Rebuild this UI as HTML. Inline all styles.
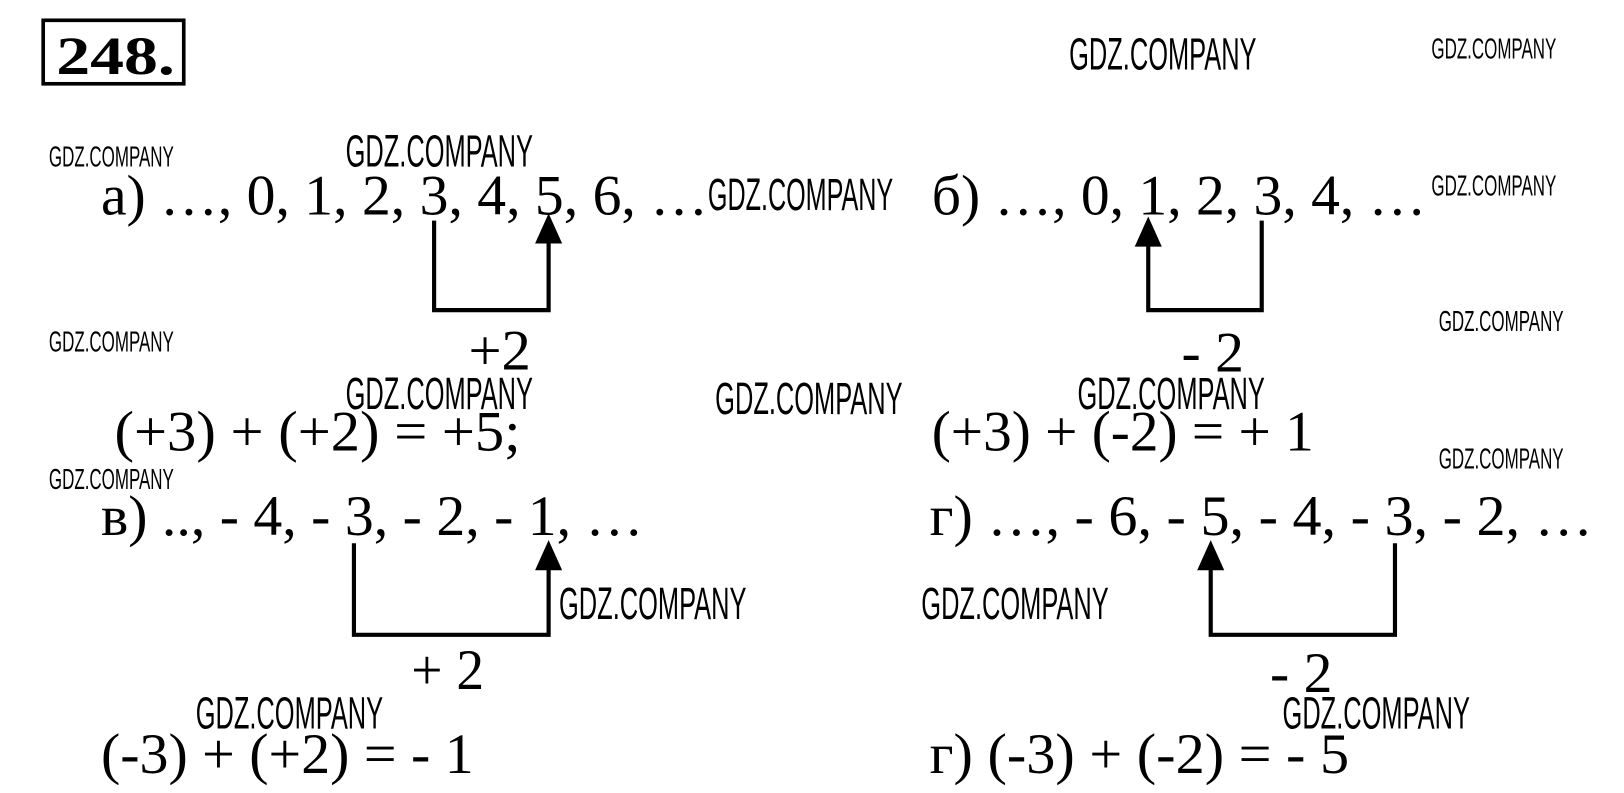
<!DOCTYPE html>
<html><head><meta charset="utf-8"><style>
html,body{margin:0;padding:0;background:#fff;}
svg{display:block;}
.m{font-family:"Liberation Serif","Times New Roman",serif;font-size:55px;fill:#000;}
.wl{font-family:"Liberation Sans Narrow","Liberation Sans",sans-serif;font-size:44px;fill:#000;}
.ws{font-family:"Liberation Sans Narrow","Liberation Sans",sans-serif;font-size:28px;fill:#000;}
</style></head><body>
<svg width="1624" height="793" viewBox="0 0 1560 762" preserveAspectRatio="none" xmlns="http://www.w3.org/2000/svg">
<rect x="0" y="0" width="1560" height="762" fill="#fff"/>
<rect x="41.5" y="19.5" width="135" height="61" fill="none" stroke="#000" stroke-width="3.5"/>
<text x="54" y="71" font-family="Liberation Serif,Times New Roman,serif" font-weight="bold" font-size="52" textLength="114" lengthAdjust="spacingAndGlyphs">248.</text>

<g>
<text class="wl" x="1027" y="67" textLength="180" lengthAdjust="spacingAndGlyphs">GDZ.COMPANY</text>
<text class="ws" x="1375" y="56" textLength="120" lengthAdjust="spacingAndGlyphs">GDZ.COMPANY</text>
<text class="ws" x="47" y="160" textLength="120" lengthAdjust="spacingAndGlyphs">GDZ.COMPANY</text>
<text class="wl" x="332" y="160" textLength="180" lengthAdjust="spacingAndGlyphs">GDZ.COMPANY</text>
<text class="wl" x="680" y="202" textLength="178" lengthAdjust="spacingAndGlyphs">GDZ.COMPANY</text>
<text class="ws" x="1375" y="188" textLength="120" lengthAdjust="spacingAndGlyphs">GDZ.COMPANY</text>
<text class="ws" x="47" y="338" textLength="120" lengthAdjust="spacingAndGlyphs">GDZ.COMPANY</text>
<text class="ws" x="1382" y="318" textLength="120" lengthAdjust="spacingAndGlyphs">GDZ.COMPANY</text>
<text class="wl" x="332" y="393" textLength="180" lengthAdjust="spacingAndGlyphs">GDZ.COMPANY</text>
<text class="wl" x="687" y="398" textLength="180" lengthAdjust="spacingAndGlyphs">GDZ.COMPANY</text>
<text class="wl" x="1035" y="393" textLength="180" lengthAdjust="spacingAndGlyphs">GDZ.COMPANY</text>
<text class="ws" x="1382" y="450" textLength="120" lengthAdjust="spacingAndGlyphs">GDZ.COMPANY</text>
<text class="ws" x="47" y="470" textLength="120" lengthAdjust="spacingAndGlyphs">GDZ.COMPANY</text>
<text class="wl" x="537" y="595" textLength="180" lengthAdjust="spacingAndGlyphs">GDZ.COMPANY</text>
<text class="wl" x="885" y="595" textLength="180" lengthAdjust="spacingAndGlyphs">GDZ.COMPANY</text>
<text class="wl" x="188" y="700" textLength="180" lengthAdjust="spacingAndGlyphs">GDZ.COMPANY</text>
<text class="wl" x="1232" y="700" textLength="180" lengthAdjust="spacingAndGlyphs">GDZ.COMPANY</text>
</g>

<text class="m" x="97" y="206" textLength="583" lengthAdjust="spacingAndGlyphs">а) …, 0, 1, 2, 3, 4, 5, 6, …</text>
<text class="m" x="895" y="206" textLength="475" lengthAdjust="spacingAndGlyphs">б) …, 0, 1, 2, 3, 4, …</text>
<text class="m" x="450" y="355" textLength="60" lengthAdjust="spacingAndGlyphs">+2</text>
<text class="m" x="1135" y="357" textLength="60" lengthAdjust="spacingAndGlyphs">- 2</text>
<text class="m" x="110" y="433" textLength="390" lengthAdjust="spacingAndGlyphs">(+3) + (+2) = +5;</text>
<text class="m" x="895" y="433" textLength="367" lengthAdjust="spacingAndGlyphs">(+3) + (-2) = + 1</text>
<text class="m" x="97" y="514" textLength="521" lengthAdjust="spacingAndGlyphs">в) .., - 4, - 3, - 2, - 1, …</text>
<text class="m" x="893" y="514" textLength="637" lengthAdjust="spacingAndGlyphs">г) …, - 6, - 5, - 4, - 3, - 2, …</text>
<text class="m" x="395" y="662" textLength="70" lengthAdjust="spacingAndGlyphs">+ 2</text>
<text class="m" x="1220" y="665" textLength="60" lengthAdjust="spacingAndGlyphs">- 2</text>
<text class="m" x="97" y="743" textLength="358" lengthAdjust="spacingAndGlyphs">(-3) + (+2) = - 1</text>
<text class="m" x="893" y="743" textLength="403" lengthAdjust="spacingAndGlyphs">г) (-3) + (-2) = - 5</text>

<g fill="none" stroke="#000" stroke-width="4">
<polyline points="417,212 417,298 527,298 527,230"/>
<polyline points="1212,212 1212,298 1103,298 1103,232"/>
<polyline points="340,522 340,610 527,610 527,544"/>
<polyline points="1340,522 1340,610 1163,610 1163,544"/>
</g>
<g fill="#000">
<polygon points="527,205 514,234 540,234"/>
<polygon points="1103,208 1090,237 1116,237"/>
<polygon points="527,519 514,548 540,548"/>
<polygon points="1163,519 1150,548 1176,548"/>
</g>
</svg>
</body></html>
